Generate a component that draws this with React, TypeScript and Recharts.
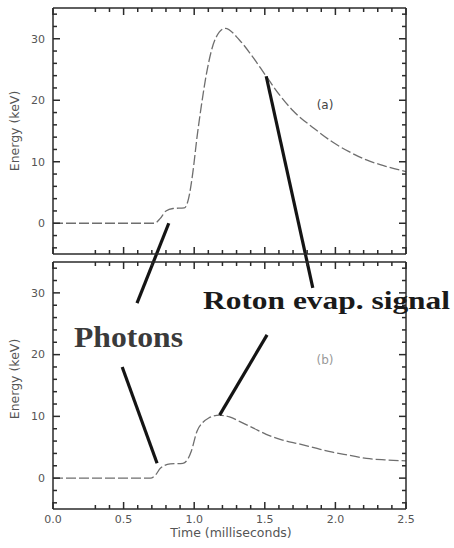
import { LineChart, Line, XAxis, YAxis, ReferenceLine } from "recharts";

// (a) total energy pulse
const TIME_A = [0, 0.3, 0.6, 0.72, 0.76, 0.8, 0.85, 0.93, 0.96, 0.99, 1.02, 1.05, 1.09, 1.15, 1.22, 1.32, 1.4, 1.51, 1.6, 1.7, 1.85, 1.98, 2.1, 2.22, 2.35, 2.5];
const ENERGY_A = [0, 0, 0, 0, 0.8, 2.0, 2.4, 2.5, 4, 8.2, 14, 19, 24.7, 30, 31.7, 29.8, 27.5, 23.9, 21, 18.3, 15.4, 13.2, 11.6, 10.3, 9.3, 8.4];

// (b) roton evaporation signal
const TIME_B = [0, 0.3, 0.6, 0.69, 0.73, 0.76, 0.83, 0.92, 0.96, 0.98, 1.02, 1.06, 1.1, 1.18, 1.25, 1.32, 1.42, 1.51, 1.62, 1.75, 1.87, 1.98, 2.1, 2.22, 2.35, 2.5];
const ENERGY_B = [0, 0, 0, 0, 0.6, 1.6, 2.3, 2.4, 3.3, 4.4, 7.6, 9, 9.7, 10.2, 9.9, 9.2, 8.1, 7.1, 6.2, 5.5, 4.8, 4.2, 3.7, 3.2, 2.95, 2.8];

const TIME_TICKS = [0, 0.3, 0.4, 0.5, 0.6, 0.7, 0.8, 0.9, 1, 1.1, 1.2, 1.3, 1.4, 1.5, 1.6, 1.7, 1.8, 1.9, 2, 2.1, 2.2, 2.3, 2.4, 2.5];
const TIME_MAJOR = [0, 0.5, 1, 1.5, 2, 2.5];
const TIME_LABELS = ["0.0", "0.5", "1.0", "1.5", "2.0", "2.5"];

const ENERGY_TICKS = [-4, -2, 0, 2, 4, 6, 8, 10, 12, 14, 16, 18, 20, 22, 24, 26, 28, 30, 32, 34];
const ENERGY_MAJOR = [0, 10, 20, 30];
const ENERGY_LABELS = ["0", "10", "20", "30"];

// callout segments, in each panel's data coordinates
const PHOTON_CALLOUT_A = [{ x: 0.82, y: 0 }, { x: 0.595, y: -13 }];
const ROTON_CALLOUT_A = [{ x: 1.51, y: 23.9 }, { x: 1.84, y: -10.5 }];
const PHOTON_CALLOUT_B = [{ x: 0.49, y: 18 }, { x: 0.737, y: 2.4 }];
const ROTON_CALLOUT_B = [{ x: 1.516, y: 23.2 }, { x: 1.18, y: 10.2 }];

const dataA = TIME_A.map((t, i) => ({ t, e: ENERGY_A[i] }));
const dataB = TIME_B.map((t, i) => ({ t, e: ENERGY_B[i] }));

const AXIS = "#2a2a2a";
const CURVE = "#6e6e6e";
const TICK_FONT = "'DejaVu Sans', sans-serif";
const TICK_W = 1.5;

type TickProps = { x?: number; y?: number; payload?: { value: number } };

function BottomTick({ x = 0, y = 0, payload, labels }: TickProps & { labels: boolean }) {
  const i = TIME_MAJOR.indexOf(payload?.value ?? -1);
  const len = i >= 0 ? 7 : 4;
  return (
    <g>
      <path d={`M${x},${y}V${y - len}`} stroke={AXIS} strokeWidth={TICK_W} fill="none" />
      {labels && i >= 0 && (
        <text x={x} y={y + 14} textAnchor="middle" fontSize={11} fill="#555" stroke="none" fontFamily={TICK_FONT}>
          {TIME_LABELS[i]}
        </text>
      )}
    </g>
  );
}

function TopTick({ x = 0, y = 0, payload }: TickProps) {
  const len = TIME_MAJOR.includes(payload?.value ?? -1) ? 7 : 4;
  return <path d={`M${x},${y}V${y + len}`} stroke={AXIS} strokeWidth={TICK_W} fill="none" />;
}

function LeftTick({ x = 0, y = 0, payload }: TickProps) {
  const i = ENERGY_MAJOR.indexOf(payload?.value ?? -99);
  const len = i >= 0 ? 7 : 4;
  return (
    <g>
      <path d={`M${x},${y}H${x + len}`} stroke={AXIS} strokeWidth={TICK_W} fill="none" />
      {i >= 0 && (
        <text x={x - 8} y={y} dy="0.35em" textAnchor="end" fontSize={11} fill="#555" stroke="none" fontFamily={TICK_FONT}>
          {ENERGY_LABELS[i]}
        </text>
      )}
    </g>
  );
}

function RightTick({ x = 0, y = 0, payload }: TickProps) {
  const len = ENERGY_MAJOR.includes(payload?.value ?? -99) ? 7 : 4;
  return <path d={`M${x},${y}H${x - len}`} stroke={AXIS} strokeWidth={TICK_W} fill="none" />;
}

type Point = { x: number; y: number };

function Panel({
  data,
  top,
  bottom,
  timeLabels,
  callouts,
}: {
  data: { t: number; e: number }[];
  top: number;
  bottom: number;
  timeLabels: boolean;
  callouts: Point[][];
}) {
  const axisLine = { stroke: AXIS, strokeWidth: 1.5 };
  // the frame axes take 1px each, so margins are one short of the plot edges
  return (
    <div style={{ position: "absolute", left: 0, top: 0 }}>
      <LineChart width={454} height={548} data={data} margin={{ top: top - 1, right: 47, bottom: bottom - 1, left: 0 }}>
        <XAxis
          dataKey="t"
          type="number"
          domain={[0, 2.5]}
          allowDataOverflow
          ticks={TIME_TICKS}
          interval={0}
          height={1}
          tickSize={0}
          tickMargin={0}
          tickLine={false}
          axisLine={axisLine}
          tick={(p: TickProps) => <BottomTick {...p} labels={timeLabels} />}
        />
        <XAxis
          xAxisId="top"
          orientation="top"
          dataKey="t"
          type="number"
          domain={[0, 2.5]}
          allowDataOverflow
          ticks={TIME_TICKS}
          interval={0}
          height={1}
          tickSize={0}
          tickMargin={0}
          tickLine={false}
          axisLine={axisLine}
          tick={(p: TickProps) => <TopTick {...p} />}
        />
        <YAxis
          dataKey="e"
          type="number"
          domain={[-5, 35]}
          allowDataOverflow
          ticks={ENERGY_TICKS}
          interval={0}
          width={53}
          tickSize={0}
          tickMargin={0}
          tickLine={false}
          axisLine={axisLine}
          tick={(p: TickProps) => <LeftTick {...p} />}
        />
        <YAxis
          yAxisId="right"
          orientation="right"
          dataKey="e"
          type="number"
          domain={[-5, 35]}
          allowDataOverflow
          ticks={ENERGY_TICKS}
          interval={0}
          width={1}
          tickSize={0}
          tickMargin={0}
          tickLine={false}
          axisLine={axisLine}
          tick={(p: TickProps) => <RightTick {...p} />}
        />
        <Line
          dataKey="e"
          type="monotone"
          stroke={CURVE}
          strokeWidth={1.3}
          strokeDasharray="10 3"
          dot={false}
          isAnimationActive={false}
        />
        {callouts.map((seg, i) => (
          <ReferenceLine
            key={i}
            segment={seg}
            stroke="#141414"
            strokeWidth={3.2}
            ifOverflow="visible"
          />
        ))}
      </LineChart>
    </div>
  );
}

export default function App() {
  return (
    <div style={{ position: "absolute", left: 0, top: 0, width: 454, height: 548, background: "#fff" }}>
      <Panel data={dataA} top={8} bottom={294} timeLabels={false} callouts={[PHOTON_CALLOUT_A, ROTON_CALLOUT_A]} />
      <Panel data={dataB} top={262} bottom={39} timeLabels callouts={[PHOTON_CALLOUT_B, ROTON_CALLOUT_B]} />
      <svg
        width={454}
        height={548}
        style={{ position: "absolute", left: 0, top: 0, pointerEvents: "none" }}
      >
        <g fontFamily="'DejaVu Sans', sans-serif" fill="#555" fontSize={12.5}>
          <text transform="translate(19,131) rotate(-90)" textAnchor="middle">Energy (keV)</text>
          <text transform="translate(19,379) rotate(-90)" textAnchor="middle">Energy (keV)</text>
          <text x={231} y={537} textAnchor="middle">Time (milliseconds)</text>
          <text x={325} y={109} textAnchor="middle" fontSize={12} fill="#444">(a)</text>
          <text x={325} y={364} textAnchor="middle" fontSize={12} fill="#999">(b)</text>
        </g>
        <g fontFamily="'Liberation Serif', 'Times New Roman', serif" fontWeight="bold">
          <text x={74} y={347} fontSize={29} fill="#3a3a3a" textLength={109} lengthAdjust="spacingAndGlyphs">
            Photons
          </text>
          <text x={203} y={309} fontSize={25} fill="#1a1a1a" textLength={247} lengthAdjust="spacingAndGlyphs">
            Roton evap. signal
          </text>
        </g>
      </svg>
    </div>
  );
}
